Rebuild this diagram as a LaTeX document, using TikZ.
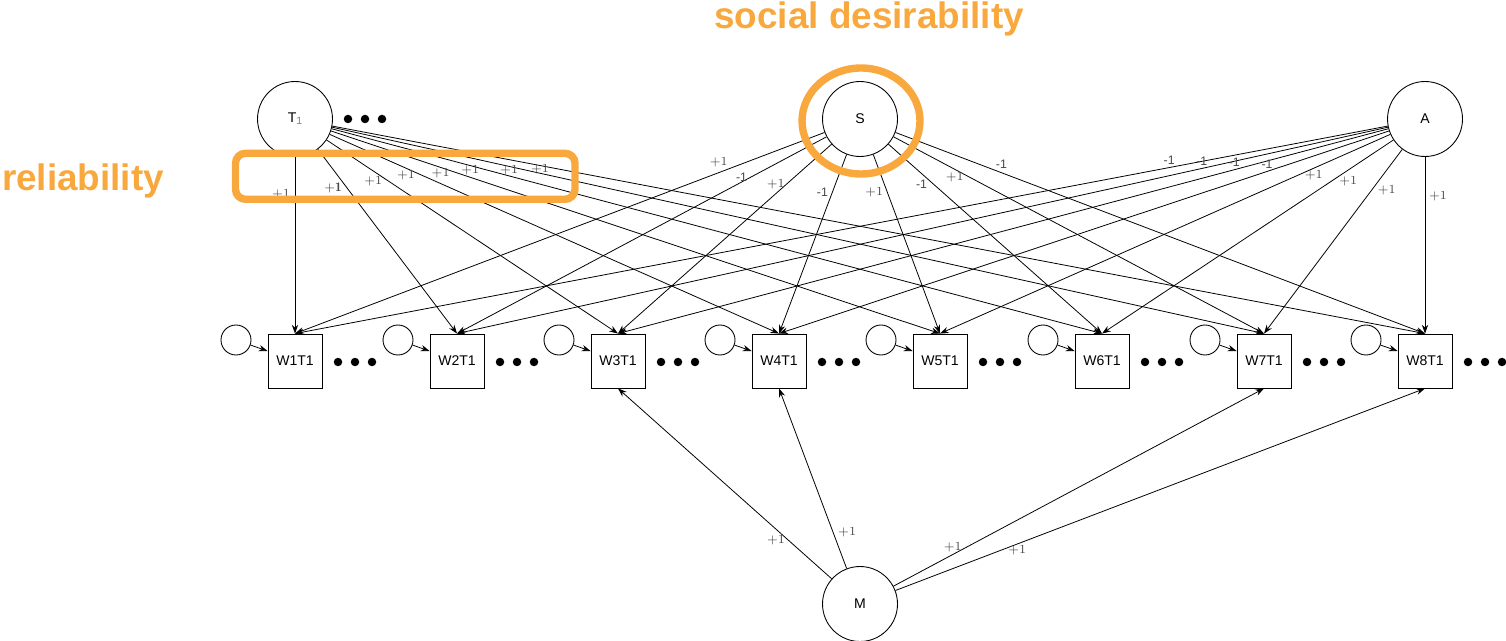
\documentclass[tikz,border=0pt]{standalone}
\usepackage{fontspec}
\newfontfamily\sansf{Liberation Sans}
\usetikzlibrary{arrows.meta}
\definecolor{hiorange}{RGB}{249,168,62}
\definecolor{lblgray}{RGB}{70,70,70}
\begin{document}
\begin{tikzpicture}[x=0.02cm,y=-0.02cm,
  latent/.style={circle,draw,line width=0.5pt,minimum size=1.5cm,inner sep=0pt,font=\sansf\fontsize{8}{9}\selectfont},
  obs/.style={rectangle,draw,line width=0.5pt,minimum size=1.08cm,inner sep=0pt,font=\sansf\fontsize{8}{9}\selectfont},
  err/.style={circle,draw,line width=0.5pt,minimum size=0.6cm,inner sep=0pt},
  arr/.style={-{Stealth[length=5pt,width=3.6pt]},line width=0.45pt},
  lbl/.style={font=\fontsize{7.5}{8}\selectfont,text=lblgray,inner sep=0.5pt},
  nlbl/.style={font=\sansf\fontsize{7}{8}\selectfont,text=lblgray,inner sep=0.5pt},
  bigdot/.style={circle,fill=black,minimum size=0.17cm,inner sep=0pt},
  hl/.style={draw=hiorange,line width=4.2pt},
  hltext/.style={font=\sansf\bfseries\fontsize{21}{24}\selectfont,text=hiorange,inner sep=0pt}
]
\useasboundingbox (0,0) rectangle (1506,641);

% latent variables
\node[latent] (T1) at (295,119) {T{\color{gray}\fontsize{6}{6}\selectfont\raisebox{-0.4ex}{1}}};
\node[latent] (S) at (860,119) {S};
\node[latent] (A) at (1425,119) {A};
\node[latent] (M) at (860,604) {M};

% dots after T1
\node[bigdot] (t1a) at (348,119) {};
\node[bigdot] (t1b) at (365,119) {};
\node[bigdot] (t1c) at (382,119) {};

% observed items, error terms, dots
\foreach \i/\x in {1/295,2/457,3/618,4/779,5/940,6/1102,7/1264,8/1425}{
  \node[obs] (W\i) at (\x,361) {W\i T1};
  \node[err] (e\i) at (\x-59,340) {};
  \draw[arr] (e\i) -- (W\i.160);
  \node[bigdot] (d\i a) at (\x+43,362) {};
  \node[bigdot] (d\i b) at (\x+60,362) {};
  \node[bigdot] (d\i c) at (\x+77,362) {};
}

% T1 loadings
\draw[arr] (T1) -- (W1.north) node[lbl,pos=.21,xshift=-0.28cm]{$+1$};
\draw[arr] (T1) -- (W2.north) node[lbl,pos=.21,xshift=-0.28cm]{$\mathbf{+1}$};
\draw[arr] (T1) -- (W3.north) node[lbl,pos=.16,yshift=-0.2cm]{$+1$};
\draw[arr] (T1) -- (W4.north) node[lbl,pos=.17,yshift=-0.15cm]{$+1$};
\draw[arr] (T1) -- (W5.north) node[lbl,pos=.18,yshift=-0.12cm]{$+1$};
\draw[arr] (T1) -- (W6.north) node[lbl,pos=.18,yshift=-0.09cm]{$+1$};
\draw[arr] (T1) -- (W7.north) node[lbl,pos=.19,yshift=-0.08cm]{$+1$};
\draw[arr] (T1) -- (W8.north) node[lbl,pos=.19,yshift=-0.08cm]{$+1$};

% S loadings
\draw[arr] (S) -- (W1.north) node[lbl,pos=.20,yshift=0.2cm]{$+1$};
\draw[arr] (S) -- (W2.north) node[nlbl,pos=.23,yshift=0.09cm]{-1};
\draw[arr] (S) -- (W3.north) node[lbl,pos=.21,xshift=-0.22cm]{$+1$};
\draw[arr] (S) -- (W4.north) node[nlbl,pos=.21,xshift=-0.2cm]{-1};
\draw[arr] (S) -- (W5.north) node[lbl,pos=.21,xshift=-0.26cm]{$+1$};
\draw[arr] (S) -- (W6.north) node[nlbl,pos=.155,yshift=-0.22cm]{-1};
\draw[arr] (S) -- (W7.north) node[lbl,pos=.165,yshift=-0.16cm]{$+1$};
\draw[arr] (S) -- (W8.north) node[nlbl,pos=.20,yshift=0.16cm]{-1};

% A loadings
\draw[arr] (A) -- (W1.north) node[nlbl,pos=.20,yshift=0.14cm]{-1};
\draw[arr] (A) -- (W2.north) node[nlbl,pos=.20,yshift=0.14cm]{-1};
\draw[arr] (A) -- (W3.north) node[nlbl,pos=.20,yshift=0.14cm]{-1};
\draw[arr] (A) -- (W4.north) node[nlbl,pos=.20,yshift=0.14cm]{-1};
\draw[arr] (A) -- (W5.north) node[lbl,pos=.17,yshift=-0.15cm]{$+1$};
\draw[arr] (A) -- (W6.north) node[lbl,pos=.155,yshift=-0.22cm]{$+1$};
\draw[arr] (A) -- (W7.north) node[lbl,pos=.22,xshift=0.3cm]{$+1$};
\draw[arr] (A) -- (W8.north) node[lbl,pos=.22,xshift=0.26cm]{$+1$};

% M loadings
\draw[arr] (M) -- (W3.south) node[lbl,pos=.20,xshift=-0.26cm]{$+1$};
\draw[arr] (M) -- (W4.south) node[lbl,pos=.20,xshift=0.28cm]{$+1$};
\draw[arr] (M) -- (W7.south) node[lbl,pos=.16,yshift=0.14cm]{$+1$};
\draw[arr] (M) -- (W8.south) node[lbl,pos=.23,yshift=-0.12cm]{$+1$};

% highlights
\draw[hl] (861,121) ellipse [x radius=1.18cm, y radius=1.06cm];
\draw[hl,rounded corners=0.2cm] (235.5,153.3) rectangle (575,199.3);
\node[hltext] (sd) at (869,19) {social desirability};
\node[hltext] (rel) at (83,181) {reliability};
\end{tikzpicture}
\end{document}
